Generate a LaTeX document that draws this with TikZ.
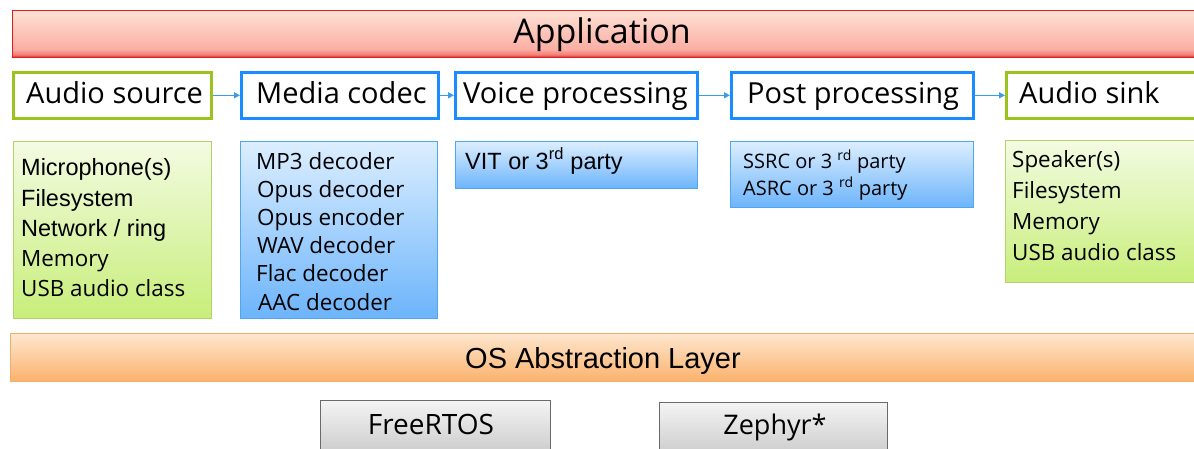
\documentclass[tikz,border=0pt]{standalone}
\usepackage{fontspec}
\setmainfont{Open Sans}
\newfontfamily\arialf{Liberation Sans}
\usetikzlibrary{arrows.meta}
\definecolor{rA}{HTML}{FEE2D6}
\definecolor{rB}{HTML}{FBAEA4}
\definecolor{rC}{HTML}{F07F78}
\definecolor{rD}{HTML}{D22424}
\definecolor{rLine}{HTML}{E41B1B}
\definecolor{gLine}{HTML}{9CC31C}
\definecolor{bLine}{HTML}{1A8CFF}
\definecolor{arrC}{HTML}{3A9BEA}
\definecolor{glTop}{HTML}{F3FBE2}
\definecolor{glBot}{HTML}{C8EE7A}
\definecolor{glLine}{HTML}{B3D36A}
\definecolor{blTop}{HTML}{DCEEFF}
\definecolor{blBot}{HTML}{6CB4FB}
\definecolor{blLine}{HTML}{4EA7F0}
\definecolor{oTop}{HTML}{FDE7CF}
\definecolor{oBot}{HTML}{FBB16C}
\definecolor{oLine}{HTML}{F4AE6A}
\definecolor{gyTop}{HTML}{F4F4F4}
\definecolor{gyBot}{HTML}{C6C6C6}
\definecolor{gyLine}{HTML}{6A6A6A}
\pgfdeclareverticalshading{appshade}{100bp}{color(0bp)=(rD); color(25bp)=(rD); color(28bp)=(rC); color(34bp)=(rB); color(75bp)=(rA); color(100bp)=(rA)}
\tikzset{
  boxbase/.style={rectangle, inner sep=0pt, anchor=north west},
  appbar/.style={boxbase, draw=rLine, line width=0.8pt, shading=appshade},
  greenhead/.style={boxbase, draw=gLine, line width=2.6pt, fill=white},
  bluehead/.style={boxbase, draw=bLine, line width=2.6pt, fill=white},
  greenlist/.style={boxbase, draw=glLine, line width=1pt, top color=glTop, bottom color=glBot},
  bluelist/.style={boxbase, draw=blLine, line width=1pt, top color=blTop, bottom color=blBot},
  osbar/.style={boxbase, draw=oLine, line width=1pt, top color=oTop, bottom color=oBot},
  rtosbox/.style={boxbase, draw=gyLine, line width=1pt, top color=gyTop, bottom color=gyBot},
  headtxt/.style={anchor=base west, inner sep=0pt, font=\fontsize{29}{35}\selectfont},
  listA/.style={anchor=base west, inner sep=0pt, font=\arialf\fontsize{23.5}{28}\selectfont},
  listO/.style={anchor=base west, inner sep=0pt, font=\fontsize{22.4}{26}\selectfont},
  listS/.style={anchor=base west, inner sep=0pt, font=\fontsize{20}{24}\selectfont},
  flowarrow/.style={draw=arrC, line width=1.3pt, -{Triangle[length=6pt,width=6pt]}}
}
\begin{document}
\begin{tikzpicture}[x=1pt,y=-1pt]
\useasboundingbox (0,0) rectangle (1194,448);
\clip (0,0) rectangle (1194,448);
% Application bar
\node[appbar, minimum width=1190pt, minimum height=47pt] (app) at (12,10) {};
\node[anchor=base, inner sep=0pt, font=\fontsize{34}{40}\selectfont] (apptxt) at (602,43) {Application};
% Head row
\node[greenhead, minimum width=198pt, minimum height=46pt] (src) at (12,71) {};
\node[bluehead, minimum width=197pt, minimum height=46pt] (codec) at (240,71) {};
\node[bluehead, minimum width=242pt, minimum height=46pt] (voice) at (454,71) {};
\node[bluehead, minimum width=242pt, minimum height=46pt] (post) at (730,71) {};
\node[greenhead, minimum width=200pt, minimum height=46pt] (sink) at (1005,71) {};
\node[headtxt] (srctxt) at (26,103) {Audio source};
\node[headtxt] (codectxt) at (256,103) {Media codec};
\node[headtxt] (voicetxt) at (463,103) {Voice processing};
\node[headtxt] (posttxt) at (747,103) {Post processing};
\node[headtxt] (sinktxt) at (1019,103) {Audio sink};
\draw[flowarrow] (src.east) -- (codec.west);
\draw[flowarrow] (codec.east) -- (voice.west);
\draw[flowarrow] (voice.east) -- (post.west);
\draw[flowarrow] (post.east) -- (sink.west);
% Lists
\node[greenlist, minimum width=198pt, minimum height=177pt] (srclist) at (13,141) {};
\node[listA] (s1) at (21,175) {Microphone(s)};
\node[listA] (s2) at (21,206) {Filesystem};
\node[listA] (s3) at (21,236) {Network / ring};
\node[listO] (s4) at (21,266) {Memory};
\node[listO] (s5) at (21,296) {USB audio class};
\node[bluelist, minimum width=197pt, minimum height=177pt] (codeclist) at (240,141) {};
\node[listO] (c1) at (256,169) {MP3 decoder};
\node[listO] (c2) at (257,197.2) {Opus decoder};
\node[listO] (c3) at (257,225.4) {Opus encoder};
\node[listO] (c4) at (257,253.6) {WAV decoder};
\node[listO] (c5) at (256,281.8) {Flac decoder};
\node[listO] (c6) at (258,310) {AAC decoder};
\node[bluelist, minimum width=242pt, minimum height=47pt] (voicelist) at (455,141) {};
\node[listA] (v1) at (465,169) {VIT or 3\textsuperscript{rd} party};
\node[bluelist, minimum width=243pt, minimum height=66pt] (postlist) at (730,141) {};
\node[listS] (p1) at (743,168) {SSRC or 3 \textsuperscript{rd} party};
\node[listS] (p2) at (743,195) {ASRC or 3 \textsuperscript{rd} party};
\node[greenlist, minimum width=200pt, minimum height=142pt] (sinklist) at (1005,140) {};
\node[listO] (k1) at (1012,167) {Speaker(s)};
\node[listO] (k2) at (1012,198) {Filesystem};
\node[listO] (k3) at (1012,229) {Memory};
\node[listO] (k4) at (1012,260) {USB audio class};
% OS abstraction
\node[osbar, minimum width=1192pt, minimum height=48pt] (osal) at (10,333) {};
\node[anchor=base, inner sep=0pt, font=\arialf\fontsize{29}{34}\selectfont] (osaltxt) at (603,368) {OS Abstraction Layer};
% RTOS
\node[rtosbox, minimum width=230pt, minimum height=60pt] (freertos) at (320,400) {};
\node[anchor=base, inner sep=0pt, font=\fontsize{28}{33}\selectfont] (freertostxt) at (431,434) {FreeRTOS};
\node[rtosbox, minimum width=228pt, minimum height=60pt] (zephyr) at (659,402) {};
\node[anchor=base, inner sep=0pt, font=\fontsize{27}{32}\selectfont] (zephyrtxt) at (775,434) {Zephyr*};
\end{tikzpicture}
\end{document}
